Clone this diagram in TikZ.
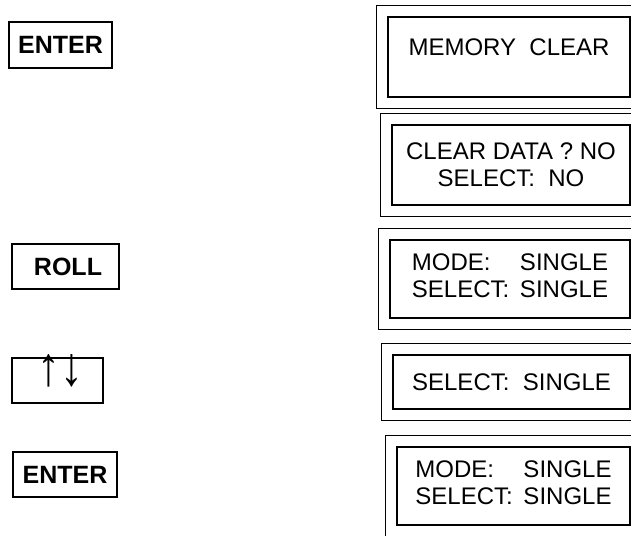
\documentclass[tikz,border=0pt]{standalone}
\usepackage{fontspec}
\setmainfont{Liberation Sans}
\usetikzlibrary{positioning, fit}
\tikzset{
  % Tasti
  key/.style={draw,line width=2pt,minimum width=104,minimum height=45,inner sep=0,
    font=\fontsize{25}{28}\selectfont\bfseries},
  % Display: riquadro interno e cornice esterna
  panel/.style={draw,line width=1.4pt,minimum height=78,inner sep=0,align=center,
    font=\fontsize{24}{27}\selectfont},
  panel frame/.style={draw,line width=1.4pt,inner sep=11}
}
\newcommand{\modesel}[1]{\begin{tabular}{@{}l@{\ \,}l@{}}MODE: & #1\\SELECT: & #1\end{tabular}}

\begin{document}
\begin{tikzpicture}[x=1pt,y=-1pt]
  \useasboundingbox (0,0) rectangle (631,535);
  \clip (0,0) rectangle (631,535);
  \node[key,minimum width=103] (enter1) at (60.5,45) {ENTER};
  \node[key,minimum width=107] (roll) at (65.5,266.5) {\hspace{5pt}ROLL};
  \node[key,minimum width=91,font=\fontsize{24}{27}\selectfont,text height=30,text depth=12] (updown) at (57.5,380.5) {\hspace{6pt}\raisebox{4pt}{\scalebox{1.9}[2.3]{↑↓}}};
  \node[key] (enter2) at (65,474.5) {ENTER};

  \node[panel,minimum width=242,minimum height=80] (memclear) at (509,57) {MEMORY\ \ CLEAR\\[-8pt]\mbox{}};
  \node[panel,minimum width=238,minimum height=80] (cleardata) at (511,165) {CLEAR DATA ? NO\\SELECT:\ \ NO};
  \node[panel,minimum width=240] (mode1) at (510,279) {\modesel{SINGLE}};
  \node[panel,minimum width=237,minimum height=54] (select) at (511.5,382) {SELECT:\ \ SINGLE};
  \node[panel,minimum width=233] (mode2) at (513.5,486) {\modesel{SINGLE}};

  \node[panel frame,fit=(memclear)] (frame1) {};
  \node[panel frame,fit=(cleardata)] (frame2) {};
  \node[panel frame,fit=(mode1)] (frame3) {};
  \node[panel frame,fit=(select)] (frame4) {};
  \node[panel frame,fit=(mode2)] (frame5) {};
\end{tikzpicture}
\end{document}
